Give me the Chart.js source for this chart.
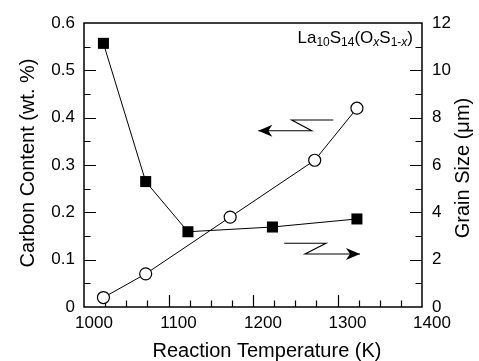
<!DOCTYPE html>
<html lang="en">
<head>
    <meta charset="UTF-8"/>
    <title>Carbon content and grain size</title>
    <script src="https://cdn.jsdelivr.net/npm/chart.js"></script>
    <style>
        html, body { margin: 0; padding: 0; background: #fff; }
    </style>
</head>
<body>
    <canvas id="grafico" width="479" height="361"></canvas>
    <script>
        // dados
        var tempCarbono = [1023, 1073, 1123, 1223, 1323];
        var carbono = [0.557, 0.265, 0.159, 0.169, 0.186];
        var tempGrao = [1023, 1073, 1173, 1273, 1323];
        var tamanhoGrao = [0.4, 1.4, 3.8, 6.2, 8.4];
        var ticksX = [1000, 1100, 1200, 1300, 1400];
        var ticksCarbono = [0, 0.1, 0.2, 0.3, 0.4, 0.5, 0.6];
        var ticksGrao = [0, 2, 4, 6, 8, 10, 12];

        var fonte = '"Liberation Sans", Arial, Helvetica, sans-serif';

        function pares(xs, ys) {
            return xs.map(function (x, i) { return { x: x, y: ys[i] }; });
        }

        function fixarTicks(lista) {
            return function (escala) {
                escala.ticks = lista.map(function (v) { return { value: v }; });
            };
        }

        // setas (em unidades de dados: x = K, y = eixo de carbono)
        var setaEsq = [[1295, 0.395], [1245.8, 0.395], [1269.5, 0.3725], [1206.3, 0.3725]];
        var setaDir = [[1237, 0.1346], [1286.4, 0.1346], [1261.5, 0.112], [1326.6, 0.112]];

        function desenharSeta(ctx, sx, sy, pts) {
            ctx.beginPath();
            pts.forEach(function (p, i) {
                var px = sx.getPixelForValue(p[0]), py = sy.getPixelForValue(p[1]);
                if (i === 0) ctx.moveTo(px, py); else ctx.lineTo(px, py);
            });
            ctx.stroke();
            var a = pts[pts.length - 1], b = pts[pts.length - 2];
            var tx = sx.getPixelForValue(a[0]), ty = sy.getPixelForValue(a[1]);
            var dir = sx.getPixelForValue(a[0]) > sx.getPixelForValue(b[0]) ? 1 : -1;
            ctx.beginPath();
            ctx.moveTo(tx, ty);
            ctx.lineTo(tx - dir * 14, ty - 6);
            ctx.lineTo(tx - dir * 10, ty);
            ctx.lineTo(tx - dir * 14, ty + 6);
            ctx.closePath();
            ctx.fill();
        }

        var moldura = {
            id: 'moldura',
            beforeDatasetsDraw: function (chart) {
                var ctx = chart.ctx, a = chart.chartArea;
                var sx = chart.scales.x, sc = chart.scales.yC, sg = chart.scales.yG;
                ctx.save();
                ctx.strokeStyle = '#000';
                ctx.lineWidth = 1.5;
                ctx.strokeRect(a.left, a.top, a.right - a.left, a.bottom - a.top);
                ctx.lineWidth = 1.2;
                ctx.beginPath();
                // eixo x: maiores a cada 100, menores a cada 25
                for (var t = 1025; t < 1400; t += 25) {
                    var px = Math.round(sx.getPixelForValue(t)) + 0.5;
                    var len = (t % 100 === 0) ? 12 : 6.5;
                    ctx.moveTo(px, a.bottom);
                    ctx.lineTo(px, a.bottom - len);
                }
                // eixo esquerdo
                for (var k = 1; k < 12; k++) {
                    var py = Math.round(sc.getPixelForValue(k * 0.05)) + 0.5;
                    var l2 = (k % 2 === 0) ? 12 : 6.5;
                    ctx.moveTo(a.left, py);
                    ctx.lineTo(a.left + l2, py);
                }
                // eixo direito
                for (var g = 1; g < 12; g++) {
                    var pg = Math.round(sg.getPixelForValue(g)) + 0.5;
                    var l3 = (g % 2 === 0) ? 12 : 6.5;
                    ctx.moveTo(a.right, pg);
                    ctx.lineTo(a.right - l3, pg);
                }
                ctx.stroke();
                ctx.restore();
            },
            afterDraw: function (chart) {
                var ctx = chart.ctx, a = chart.chartArea;
                var sx = chart.scales.x, sc = chart.scales.yC;
                ctx.save();
                ctx.fillStyle = '#000';
                ctx.strokeStyle = '#000';
                ctx.lineWidth = 1.1;
                desenharSeta(ctx, sx, sc, setaEsq);
                desenharSeta(ctx, sx, sc, setaDir);

                // títulos dos eixos
                ctx.font = '20px ' + fonte;
                ctx.textAlign = 'center';
                ctx.textBaseline = 'alphabetic';
                ctx.fillText('Reaction Temperature (K)', 267, 357);
                ctx.save();
                ctx.translate(33.5, 163);
                ctx.rotate(-Math.PI / 2);
                ctx.fillText('Carbon Content (wt. %)', 0, 0);
                ctx.restore();
                ctx.save();
                ctx.translate(468.5, 168);
                ctx.rotate(-Math.PI / 2);
                ctx.fillText('Grain Size (\u03bcm)', 0, 0);
                ctx.restore();

                // fórmula no canto
                var partes = [
                    ['La', 0, false], ['10', 1, false], ['S', 0, false], ['14', 1, false],
                    ['(O', 0, false], ['x', 1, true], ['S', 0, false], ['1-', 1, false],
                    ['x', 1, true], [')', 0, false]
                ];
                function fontePart(p) {
                    return (p[2] ? 'italic ' : '') + (p[1] ? '12px ' : '17px ') + fonte;
                }
                var total = 0;
                partes.forEach(function (p) { ctx.font = fontePart(p); total += ctx.measureText(p[0]).width; });
                var x = a.right - 9 - total, base = a.top + 20;
                ctx.textAlign = 'left';
                partes.forEach(function (p) {
                    ctx.font = fontePart(p);
                    ctx.fillText(p[0], x, base + (p[1] ? 3 : 0));
                    x += ctx.measureText(p[0]).width;
                });
                ctx.restore();
            }
        };

        var ctx = document.getElementById('grafico').getContext('2d');
        var grafico = new Chart(ctx, {
            type: 'line',
            data: {
                datasets: [{
                    label: 'Carbon content',
                    data: pares(tempGrao, tamanhoGrao),
                    yAxisID: 'yG',
                    borderColor: '#000',
                    borderWidth: 1,
                    pointStyle: 'circle',
                    pointRadius: 6,
                    pointBackgroundColor: '#fff',
                    pointBorderColor: '#000',
                    pointBorderWidth: 1.2,
                    tension: 0
                }, {
                    label: 'Carbon content',
                    data: pares(tempCarbono, carbono),
                    yAxisID: 'yC',
                    borderColor: '#000',
                    borderWidth: 1,
                    pointStyle: 'rect',
                    pointRadius: 7.8,
                    pointBackgroundColor: '#000',
                    pointBorderColor: '#000',
                    pointBorderWidth: 0,
                    tension: 0
                }]
            },
            options: {
                responsive: false,
                animation: false,
                layout: { padding: { top: 23, left: 0, right: 0, bottom: 0 } },
                plugins: { legend: { display: false }, tooltip: { enabled: false } },
                scales: {
                    x: {
                        type: 'linear',
                        min: 1000,
                        max: 1400,
                        afterBuildTicks: fixarTicks(ticksX),
                        afterFit: function (e) { e.height = 54; },
                        grid: { display: false, drawTicks: false },
                        border: { display: false },
                        ticks: {
                            color: '#000',
                            font: { family: fonte, size: 17 },
                            padding: 6,
                            labelOffset: 10,
                            maxRotation: 0,
                            callback: function (v) { return String(v); }
                        }
                    },
                    yC: {
                        type: 'linear',
                        position: 'left',
                        min: 0,
                        max: 0.6,
                        afterBuildTicks: fixarTicks(ticksCarbono),
                        afterFit: function (e) { e.width = 84; },
                        grid: { display: false, drawTicks: false },
                        border: { display: false },
                        ticks: {
                            color: '#000',
                            font: { family: fonte, size: 17 },
                            padding: 9,
                            callback: function (v) { return v === 0 ? '0' : v.toFixed(1); }
                        }
                    },
                    yG: {
                        type: 'linear',
                        position: 'right',
                        min: 0,
                        max: 12,
                        afterBuildTicks: fixarTicks(ticksGrao),
                        afterFit: function (e) { e.width = 57; },
                        grid: { display: false, drawTicks: false },
                        border: { display: false },
                        ticks: {
                            color: '#000',
                            font: { family: fonte, size: 17 },
                            padding: 10,
                            callback: function (v) { return String(v); }
                        }
                    }
                }
            },
            plugins: [moldura]
        });
    </script>
</body>
</html>
